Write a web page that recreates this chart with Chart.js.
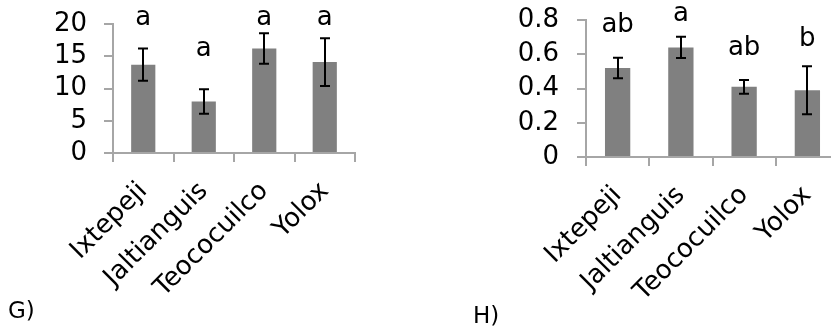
<!DOCTYPE html>
<html><head><meta charset="utf-8">
<script src="https://cdn.jsdelivr.net/npm/chart.js@4.4.1/dist/chart.umd.min.js"></script>
<style>
html,body{margin:0;padding:0;width:831px;height:330px;overflow:hidden;background:#fff;}
#g{position:absolute;left:0;top:0;}
#h{position:absolute;left:440px;top:0;}
.lab{position:absolute;font-family:"DejaVu Sans";font-size:23px;color:#000;line-height:1;}
</style></head><body>
<canvas id="g" width="415" height="330"></canvas>
<canvas id="h" width="400" height="330"></canvas>
<div class="lab" style="left:8px;top:299px">G)</div>
<div class="lab" style="left:473px;top:304px">H)</div>
<script>
const categories = ['Ixtepeji', 'Jaltianguis', 'Teococuilco', 'Yolox'];

const gMeans   = [13.7, 8.0, 16.2, 14.1];
const gErrors  = [2.5, 1.9, 2.35, 3.7];
const gLetters = ['a', 'a', 'a', 'a'];
const gLetterAt = [19.8, 15.0, 19.8, 19.8];
const gTicks   = [0, 5, 10, 15, 20];

const hMeans   = [0.52, 0.64, 0.41, 0.39];
const hErrors  = [0.06, 0.062, 0.04, 0.14];
const hLetters = ['ab', 'a', 'ab', 'b'];
const hLetterAt = [0.728, 0.796, 0.595, 0.648];
const hTicks   = [0, 0.2, 0.4, 0.6, 0.8];

const FONT = 'DejaVu Sans';
const AXIS = '#a6a6a6';

const annot = {
  id: 'annot',
  afterDatasetsDraw(chart, args, o) {
    const ctx = chart.ctx, x = chart.scales.x, y = chart.scales.y;
    ctx.save();
    ctx.strokeStyle = '#000';
    ctx.lineWidth = 2;
    o.means.forEach((m, i) => {
      const cx = Math.round(x.getPixelForValue(i));
      const t = y.getPixelForValue(m + o.errors[i]);
      const b = y.getPixelForValue(m - o.errors[i]);
      ctx.beginPath();
      ctx.moveTo(cx, t); ctx.lineTo(cx, b);
      ctx.moveTo(cx - 5, t); ctx.lineTo(cx + 5, t);
      ctx.moveTo(cx - 5, b); ctx.lineTo(cx + 5, b);
      ctx.stroke();
    });
    ctx.fillStyle = '#000';
    ctx.font = o.size + 'px "' + FONT + '"';
    ctx.textAlign = 'center';
    ctx.textBaseline = 'alphabetic';
    o.letters.forEach((l, i) => {
      ctx.fillText(l, x.getPixelForValue(i), y.getPixelForValue(o.letterAt[i]));
    });
    ctx.restore();
  }
};

function makeChart(id, means, errors, letters, letterAt, ticks, L) {
  return new Chart(document.getElementById(id), {
    type: 'bar',
    data: {
      labels: categories,
      datasets: [{ data: means, backgroundColor: '#808080', borderWidth: 0,
                   barPercentage: 0.4, categoryPercentage: 1 }]
    },
    options: {
      responsive: false,
      animation: false,
      events: [],
      layout: { padding: { top: L.top, right: L.right, left: 0, bottom: 0 } },
      plugins: {
        legend: { display: false },
        tooltip: { enabled: false },
        annot: { means, errors, letters, letterAt, size: L.letterSize }
      },
      scales: {
        x: {
          grid: { display: true, drawOnChartArea: false, drawTicks: true, tickLength: 9,
                  color: AXIS, lineWidth: 2, offset: true },
          border: { color: AXIS, width: 2 },
          ticks: { color: '#000', font: { family: FONT, size: L.fs }, minRotation: 45,
                   maxRotation: 45, padding: L.xpad, autoSkip: false },
          afterFit(s) { s.height = L.xh; s.paddingLeft = 0; s.paddingRight = 0; }
        },
        y: {
          min: ticks[0], max: ticks[ticks.length - 1],
          afterBuildTicks(s) { s.ticks = ticks.map(v => ({ value: v })); },
          ticks: { color: '#000', font: { family: FONT, size: L.fs }, padding: L.ypad,
                   autoSkip: false, callback: v => String(v) },
          grid: { drawOnChartArea: false, drawTicks: true, tickLength: 9, color: AXIS, lineWidth: 2 },
          border: { color: AXIS, width: 2 },
          afterFit(s) { s.width = L.yw; s.paddingTop = 0; s.paddingBottom = 0; }
        }
      }
    },
    plugins: [annot]
  });
}

makeChart('g', gMeans, gErrors, gLetters, gLetterAt, gTicks,
  { top: 24, right: 60, yw: 113, xh: 177, fs: 26, letterSize: 26, xpad: 14, ypad: 17 });
makeChart('h', hMeans, hErrors, hLetters, hLetterAt, hTicks,
  { top: 20, right: 1, yw: 146, xh: 173, fs: 26, letterSize: 26, xpad: 14, ypad: 18 });
</script>
</body></html>
